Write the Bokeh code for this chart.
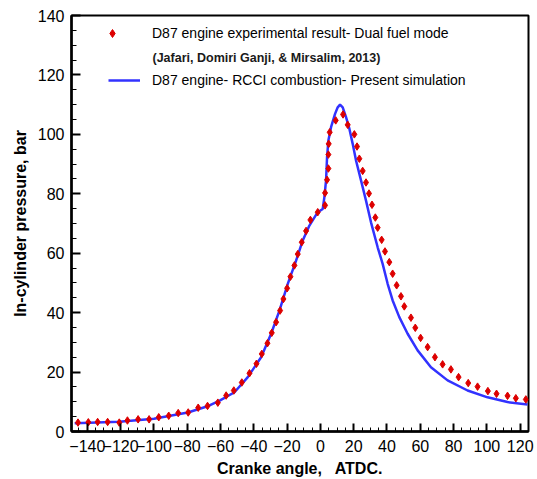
from bokeh.plotting import figure
from bokeh.models import Range1d, FixedTicker, Legend, LegendItem, Label
from bokeh.embed import file_html
from bokeh.resources import INLINE

# Experimental (D87 dual fuel) data
exp_angle = [-145.6, -139.4, -133.8, -127.8, -120.8, -115.9, -109.5, -102.9, -97.1, -91.1,
             -85.4, -79.4, -73.4, -67.8, -61.6, -56.6, -52.0, -47.2, -42.6, -38.4,
             -35.2, -31.8, -29.2, -26.6, -24.2, -22.2, -20.0, -18.0, -15.6, -13.6,
             -11.2, -8.6, -6.0, -1.6, 2.8, 2.8, 4.0, 4.8, 4.8, 5.0,
             5.6, 9.2, 13.6, 16.4, 20.4, 22.0, 23.4, 25.4, 27.4, 29.2,
             31.0, 33.0, 34.4, 36.8, 38.8, 41.4, 43.4, 45.8, 48.4, 50.4,
             54.4, 57.0, 60.2, 64.4, 68.8, 73.4, 78.4, 83.0, 88.8, 94.4,
             100.6, 105.8, 112.4, 117.4, 123.4]
exp_pressure = [3.0, 3.1, 3.2, 3.2, 3.0, 3.7, 4.1, 4.1, 4.8, 5.3,
                6.2, 6.4, 8.0, 8.6, 9.7, 12.1, 13.8, 16.5, 19.6, 22.8,
                26.1, 29.7, 33.2, 36.8, 40.7, 44.6, 48.2, 52.1, 55.9, 59.7,
                63.7, 67.5, 71.2, 73.8, 76.1, 80.3, 84.7, 88.5, 93.2, 96.8,
                100.7, 104.7, 106.7, 103.2, 100.0, 95.9, 91.8, 87.7, 83.8, 80.1,
                76.3, 72.0, 68.6, 64.5, 60.6, 57.0, 53.1, 49.2, 45.5, 42.1,
                38.3, 34.9, 31.5, 28.4, 25.0, 22.6, 20.9, 18.3, 16.3, 15.1,
                13.6, 12.7, 12.0, 11.2, 10.8]

# Simulation (RCCI) data
sim_angle = [-147.6, -120.8, -100.0, -79.6, -68.2, -60.5, -51.6, -43.6, -35.6, -29.6,
             -24.6, -19.6, -14.6, -10.6, -6.6, -1.6, 1.4, 2.4, 3.4, 4.0,
             4.8, 6.4, 8.8, 10.4, 11.8, 13.4, 15.4, 17.4, 19.4, 21.4,
             24.4, 27.4, 30.4, 34.4, 37.4, 40.4, 43.4, 47.4, 52.4, 58.4,
             66.4, 76.4, 88.4, 100.4, 112.4, 124.4]
sim_pressure = [2.8, 3.3, 4.3, 6.4, 8.4, 10.4, 13.2, 18.3, 25.0, 32.9,
                40.7, 49.7, 57.5, 64.3, 69.3, 73.8, 74.9, 78.9, 84.5, 92.3,
                97.9, 102.4, 106.9, 109.1, 110.0, 109.1, 105.8, 101.9, 96.8, 91.2,
                84.5, 77.7, 70.4, 62.0, 56.4, 49.7, 44.1, 38.5, 32.9, 27.3,
                21.6, 17.2, 13.8, 11.5, 9.9, 9.1]

x_ticks = [-140, -120, -100, -80, -60, -40, -20, 0, 20, 40, 60, 80, 100, 120]
y_ticks = [0, 20, 40, 60, 80, 100, 120, 140]
x_minor = list(range(-145, 126, 5))
y_minor = list(range(0, 141, 5))

exp_label = "D87 engine experimental result- Dual fuel mode"
cite_label = "(Jafari, Domiri Ganji, & Mirsalim, 2013)"
sim_label = "D87 engine- RCCI combustion- Present simulation"
x_title = "Cranke angle,\u00a0\u00a0 ATDC."
y_title = "In-cylinder pressure, bar"

FONT = "Liberation Sans"

p = figure(width=537, height=479, output_backend="svg", toolbar_location=None,
           x_range=Range1d(-149.5, 125), y_range=Range1d(0, 140),
           min_border_left=71, min_border_right=9, min_border_top=15, min_border_bottom=48,
           background_fill_color="white", border_fill_color="white")
p.outline_line_color = "black"
p.outline_line_width = 2
p.xgrid.visible = False
p.ygrid.visible = False

p.xaxis.ticker = FixedTicker(ticks=x_ticks, minor_ticks=x_minor)
p.yaxis.ticker = FixedTicker(ticks=y_ticks, minor_ticks=y_minor)

for ax in (p.xaxis, p.yaxis):
    ax.axis_line_color = "black"
    ax.axis_line_width = 2.5
    ax.major_tick_line_color = "black"
    ax.minor_tick_line_color = "black"
    ax.major_tick_line_width = 2
    ax.minor_tick_line_width = 1
    ax.major_tick_out = 0
    ax.minor_tick_out = 0
    ax.major_label_text_font = FONT
    ax.major_label_text_font_size = "16px"
    ax.major_label_text_color = "black"
    ax.axis_label_text_font = FONT
    ax.axis_label_text_font_size = "16px"
    ax.axis_label_text_font_style = "bold"
    ax.axis_label_text_color = "black"

p.xaxis.major_tick_in = 8
p.xaxis.minor_tick_in = 4
p.xaxis.major_label_standoff = 8
p.xaxis.axis_label = x_title
p.xaxis.axis_label_standoff = 5

p.yaxis.major_tick_in = 9
p.yaxis.minor_tick_in = 5
p.yaxis.major_label_standoff = 7
p.yaxis.axis_label = y_title
p.yaxis.axis_label_standoff = 6

r_sim = p.line(sim_angle, sim_pressure, line_color="#3232ff", line_width=2.5)
r_exp = p.scatter(exp_angle, exp_pressure, marker="diamond", size=7.5,
                  fill_color="#dd0000", line_color="#dd0000")

leg1 = Legend(items=[LegendItem(label=exp_label, renderers=[r_exp])],
              location=(31, 388), glyph_width=20, glyph_height=20, label_height=20,
              label_standoff=30, padding=0, margin=0, spacing=0,
              border_line_color=None, background_fill_alpha=0,
              label_text_font=FONT, label_text_font_size="14px", label_text_color="black")
leg2 = Legend(items=[LegendItem(label=sim_label, renderers=[r_sim])],
              location=(37, 341), glyph_width=32, glyph_height=20, label_height=20,
              label_standoff=12, padding=0, margin=0, spacing=0,
              border_line_color=None, background_fill_alpha=0,
              label_text_font=FONT, label_text_font_size="14px", label_text_color="black")
p.add_layout(leg1, "center")
p.add_layout(leg2, "center")

p.add_layout(Label(x=81, y=374, x_units="screen", y_units="screen", text=cite_label,
                   text_font=FONT, text_font_size="12.5px", text_font_style="bold",
                   text_color="#1a1a1a", text_baseline="middle", text_align="left"))

open("out.html", "w").write(file_html(p, INLINE))
